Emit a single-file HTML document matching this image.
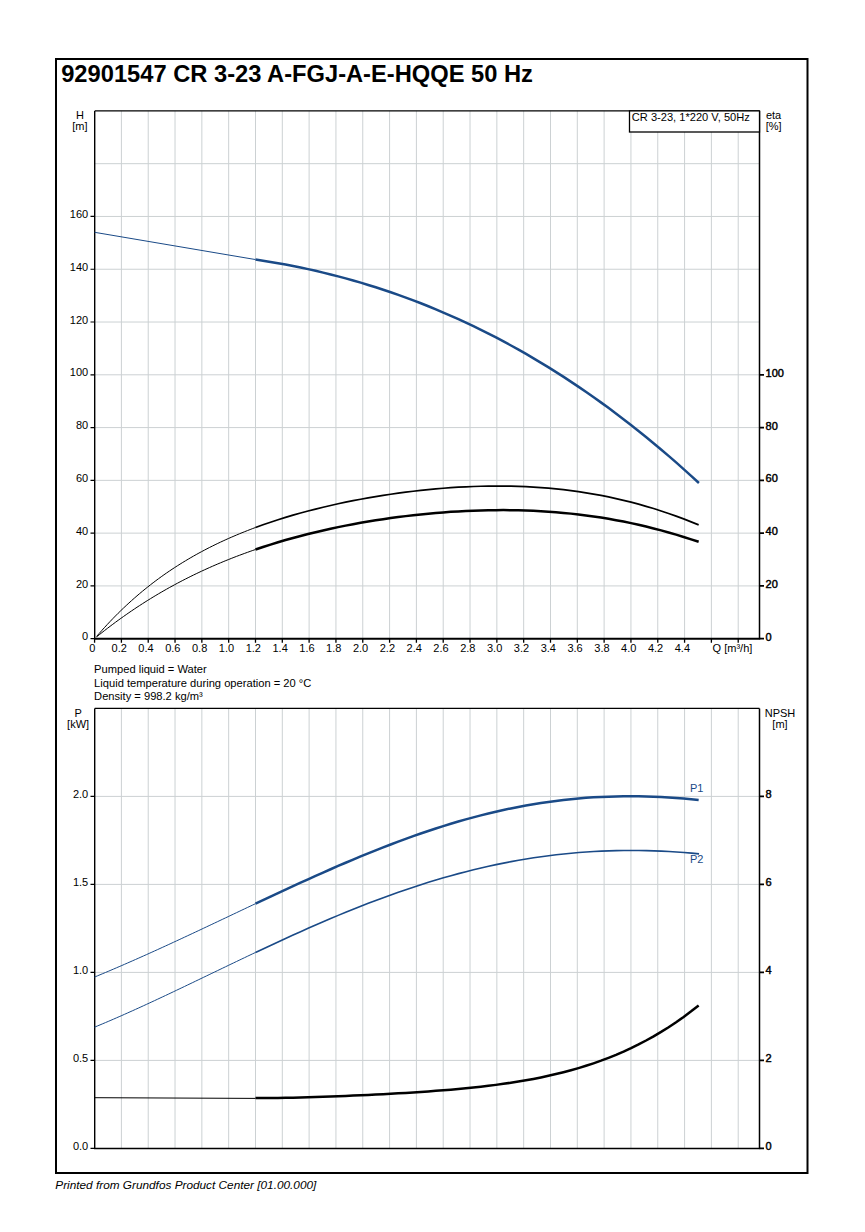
<!DOCTYPE html><html><head><meta charset="utf-8"><title>92901547 CR 3-23 A-FGJ-A-E-HQQE 50 Hz</title><style>html,body{margin:0;padding:0;background:#fff;width:865px;height:1232px;overflow:hidden}</style></head><body><svg width="865" height="1232" viewBox="0 0 865 1232" style="display:block">
<rect x="0" y="0" width="865" height="1232" fill="#fff"/>
<rect x="56" y="59" width="751.5" height="1114" fill="none" stroke="#000" stroke-width="2"/>
<text x="61.2" y="82" font-family="'Liberation Sans', Arial, sans-serif" font-size="23.7" font-weight="bold" fill="#000">92901547 CR 3-23 A-FGJ-A-E-HQQE 50 Hz</text>
<path d="M121.40,110.90V638.70 M148.22,110.90V638.70 M175.03,110.90V638.70 M201.85,110.90V638.70 M228.67,110.90V638.70 M255.49,110.90V638.70 M282.31,110.90V638.70 M309.12,110.90V638.70 M335.94,110.90V638.70 M362.76,110.90V638.70 M389.58,110.90V638.70 M416.40,110.90V638.70 M443.21,110.90V638.70 M470.03,110.90V638.70 M496.85,110.90V638.70 M523.67,110.90V638.70 M550.49,110.90V638.70 M577.30,110.90V638.70 M604.12,110.90V638.70 M630.94,110.90V638.70 M657.76,110.90V638.70 M684.58,110.90V638.70 M711.39,110.90V638.70 M738.21,110.90V638.70 M94.70,585.92H759.50 M94.70,533.14H759.50 M94.70,480.36H759.50 M94.70,427.58H759.50 M94.70,374.80H759.50 M94.70,322.02H759.50 M94.70,269.24H759.50 M94.70,216.46H759.50 M94.70,163.68H759.50" stroke="#ccd1d3" stroke-width="1" fill="none"/>
<path d="M94.7,110.9H759.5" stroke="#000" stroke-width="1.3"/>
<path d="M94.7,110.9V638.7" stroke="#000" stroke-width="1.4"/>
<path d="M759.5,110.9V638.7" stroke="#000" stroke-width="1.5"/>
<path d="M94.0,638.7H760.2" stroke="#000" stroke-width="2"/>
<path d="M90.5,638.70H94.7 M90.5,585.92H94.7 M90.5,533.14H94.7 M90.5,480.36H94.7 M90.5,427.58H94.7 M90.5,374.80H94.7 M90.5,322.02H94.7 M90.5,269.24H94.7 M90.5,216.46H94.7" stroke="#000" stroke-width="1.2"/>
<g font-family="'Liberation Sans', Arial, sans-serif" font-size="11" fill="#000"><text x="88.2" y="640.30" text-anchor="end">0</text><text x="88.2" y="587.52" text-anchor="end">20</text><text x="88.2" y="534.74" text-anchor="end">40</text><text x="88.2" y="481.96" text-anchor="end">60</text><text x="88.2" y="429.18" text-anchor="end">80</text><text x="88.2" y="376.40" text-anchor="end">100</text><text x="88.2" y="323.62" text-anchor="end">120</text><text x="88.2" y="270.84" text-anchor="end">140</text><text x="88.2" y="218.06" text-anchor="end">160</text></g>
<path d="M759.5,638.70H764 M759.5,585.92H764 M759.5,533.14H764 M759.5,480.36H764 M759.5,427.58H764 M759.5,374.80H764" stroke="#000" stroke-width="1.8"/>
<g font-family="'Liberation Sans', Arial, sans-serif" font-size="11" fill="#000" stroke="#000" stroke-width="0.45"><text x="765.6" y="640.70">0</text><text x="765.6" y="587.92">20</text><text x="765.6" y="535.14">40</text><text x="765.6" y="482.36">60</text><text x="765.6" y="429.58">80</text><text x="765.6" y="376.80">100</text></g>
<path d="M94.58,638.7V642.8 M121.40,638.7V642.8 M148.22,638.7V642.8 M175.03,638.7V642.8 M201.85,638.7V642.8 M228.67,638.7V642.8 M255.49,638.7V642.8 M282.31,638.7V642.8 M309.12,638.7V642.8 M335.94,638.7V642.8 M362.76,638.7V642.8 M389.58,638.7V642.8 M416.40,638.7V642.8 M443.21,638.7V642.8 M470.03,638.7V642.8 M496.85,638.7V642.8 M523.67,638.7V642.8 M550.49,638.7V642.8 M577.30,638.7V642.8 M604.12,638.7V642.8 M630.94,638.7V642.8 M657.76,638.7V642.8 M684.58,638.7V642.8 M711.39,638.7V642.8 M738.21,638.7V642.8" stroke="#000" stroke-width="1.3"/>
<g font-family="'Liberation Sans', Arial, sans-serif" font-size="11" fill="#000"><text x="92.38" y="652" text-anchor="middle">0</text><text x="119.20" y="652" text-anchor="middle">0.2</text><text x="146.02" y="652" text-anchor="middle">0.4</text><text x="172.83" y="652" text-anchor="middle">0.6</text><text x="199.65" y="652" text-anchor="middle">0.8</text><text x="226.47" y="652" text-anchor="middle">1.0</text><text x="253.29" y="652" text-anchor="middle">1.2</text><text x="280.11" y="652" text-anchor="middle">1.4</text><text x="306.92" y="652" text-anchor="middle">1.6</text><text x="333.74" y="652" text-anchor="middle">1.8</text><text x="360.56" y="652" text-anchor="middle">2.0</text><text x="387.38" y="652" text-anchor="middle">2.2</text><text x="414.20" y="652" text-anchor="middle">2.4</text><text x="441.01" y="652" text-anchor="middle">2.6</text><text x="467.83" y="652" text-anchor="middle">2.8</text><text x="494.65" y="652" text-anchor="middle">3.0</text><text x="521.47" y="652" text-anchor="middle">3.2</text><text x="548.29" y="652" text-anchor="middle">3.4</text><text x="575.10" y="652" text-anchor="middle">3.6</text><text x="601.92" y="652" text-anchor="middle">3.8</text><text x="628.74" y="652" text-anchor="middle">4.0</text><text x="655.56" y="652" text-anchor="middle">4.2</text><text x="682.38" y="652" text-anchor="middle">4.4</text><text x="712.6" y="652">Q [m³/h]</text></g>
<g font-family="'Liberation Sans', Arial, sans-serif" font-size="11" fill="#000" text-anchor="middle"><text x="79.9" y="118.6">H</text><text x="79.9" y="129.6">[m]</text><text x="773.6" y="118.7">eta</text><text x="773.6" y="129.7">[%]</text></g>
<rect x="629.5" y="110.9" width="130.00" height="21.10" fill="#fff" stroke="#000" stroke-width="1.3"/>
<text x="631.8" y="121.4" font-family="'Liberation Sans', Arial, sans-serif" font-size="11.1" fill="#000">CR 3-23, 1*220 V, 50Hz</text>
<path d="M94.58,232.3 L255.49,259.56" stroke="#1a4a87" stroke-width="1" fill="none"/>
<path d="M255.49,259.56 L263.00,260.70 L270.52,261.91 L278.04,263.21 L285.55,264.57 L293.07,266.02 L300.58,267.54 L308.10,269.15 L315.61,270.83 L323.13,272.60 L330.65,274.44 L338.16,276.37 L345.68,278.38 L353.19,280.48 L360.71,282.66 L368.23,284.93 L375.74,287.28 L383.26,289.72 L390.77,292.25 L398.29,294.88 L405.81,297.59 L413.32,300.39 L420.84,303.28 L428.35,306.27 L435.87,309.35 L443.38,312.53 L450.90,315.80 L458.42,319.17 L465.93,322.63 L473.45,326.19 L480.96,329.86 L488.48,333.62 L496.00,337.48 L503.51,341.45 L511.03,345.51 L518.54,349.68 L526.06,353.96 L533.57,358.34 L541.09,362.82 L548.61,367.42 L556.12,372.12 L563.64,376.92 L571.15,381.84 L578.67,386.87 L586.19,392.01 L593.70,397.26 L601.22,402.63 L608.73,408.11 L616.25,413.70 L623.77,419.41 L631.28,425.23 L638.80,431.17 L646.31,437.23 L653.83,443.41 L661.34,449.71 L668.86,456.13 L676.38,462.67 L683.89,469.34 L691.41,476.12 L698.92,483.03" stroke="#1a4a87" stroke-width="2.5" fill="none"/>
<path d="M96.59,636.47 L99.28,633.36 L101.98,630.31 L104.67,627.33 L107.36,624.40 L110.06,621.54 L112.75,618.73 L115.44,615.97 L118.14,613.28 L120.83,610.63 L123.52,608.04 L126.22,605.50 L128.91,603.02 L131.60,600.58 L134.30,598.19 L136.99,595.85 L139.68,593.55 L142.38,591.30 L145.07,589.10 L147.76,586.94 L150.45,584.82 L153.15,582.74 L155.84,580.71 L158.53,578.71 L161.23,576.76 L163.92,574.84 L166.61,572.96 L169.31,571.12 L172.00,569.31 L174.69,567.54 L177.39,565.81 L180.08,564.10 L182.77,562.43 L185.47,560.80 L188.16,559.19 L190.85,557.62 L193.55,556.07 L196.24,554.56 L198.93,553.07 L201.62,551.61 L204.32,550.18 L207.01,548.78 L209.70,547.40 L212.40,546.05 L215.09,544.73 L217.78,543.43 L220.48,542.15 L223.17,540.90 L225.86,539.67 L228.56,538.46 L231.25,537.27 L233.94,536.11 L236.64,534.97 L239.33,533.84 L242.02,532.74 L244.72,531.66 L247.41,530.60 L250.10,529.56 L252.79,528.53 L255.49,527.52" stroke="#000" stroke-width="1" fill="none"/>
<path d="M255.49,527.52 L263.00,524.81 L270.51,522.22 L278.02,519.76 L285.53,517.41 L293.04,515.18 L300.56,513.05 L308.07,511.01 L315.58,509.08 L323.09,507.23 L330.60,505.47 L338.11,503.79 L345.62,502.20 L353.14,500.68 L360.65,499.24 L368.16,497.88 L375.67,496.59 L383.18,495.37 L390.69,494.23 L398.20,493.16 L405.71,492.16 L413.23,491.23 L420.74,490.37 L428.25,489.59 L435.76,488.88 L443.27,488.25 L450.78,487.69 L458.29,487.21 L465.80,486.81 L473.32,486.49 L480.83,486.26 L488.34,486.10 L495.85,486.04 L503.36,486.06 L510.87,486.18 L518.38,486.38 L525.90,486.68 L533.41,487.08 L540.92,487.58 L548.43,488.19 L555.94,488.89 L563.45,489.70 L570.96,490.63 L578.47,491.66 L585.99,492.81 L593.50,494.07 L601.01,495.45 L608.52,496.95 L616.03,498.57 L623.54,500.31 L631.05,502.18 L638.56,504.18 L646.08,506.31 L653.59,508.56 L661.10,510.95 L668.61,513.47 L676.12,516.13 L683.63,518.92 L691.14,521.84 L698.66,524.91" stroke="#000" stroke-width="1.7" fill="none"/>
<path d="M96.59,636.89 L99.28,634.72 L101.98,632.58 L104.67,630.47 L107.36,628.39 L110.06,626.34 L112.75,624.31 L115.44,622.31 L118.14,620.34 L120.83,618.39 L123.52,616.47 L126.22,614.58 L128.91,612.71 L131.60,610.87 L134.30,609.06 L136.99,607.26 L139.68,605.50 L142.38,603.76 L145.07,602.04 L147.76,600.35 L150.45,598.68 L153.15,597.03 L155.84,595.41 L158.53,593.81 L161.23,592.24 L163.92,590.68 L166.61,589.15 L169.31,587.64 L172.00,586.16 L174.69,584.69 L177.39,583.25 L180.08,581.82 L182.77,580.42 L185.47,579.04 L188.16,577.68 L190.85,576.33 L193.55,575.01 L196.24,573.71 L198.93,572.43 L201.62,571.16 L204.32,569.92 L207.01,568.69 L209.70,567.48 L212.40,566.29 L215.09,565.12 L217.78,563.96 L220.48,562.83 L223.17,561.71 L225.86,560.60 L228.56,559.52 L231.25,558.45 L233.94,557.39 L236.64,556.35 L239.33,555.33 L242.02,554.33 L244.72,553.34 L247.41,552.36 L250.10,551.40 L252.79,550.45 L255.49,549.52" stroke="#000" stroke-width="1" fill="none"/>
<path d="M255.49,549.52 L263.00,547.00 L270.51,544.59 L278.02,542.28 L285.53,540.07 L293.04,537.96 L300.56,535.94 L308.07,534.01 L315.58,532.17 L323.09,530.42 L330.60,528.75 L338.11,527.15 L345.62,525.64 L353.14,524.20 L360.65,522.83 L368.16,521.54 L375.67,520.31 L383.18,519.16 L390.69,518.08 L398.20,517.06 L405.71,516.12 L413.23,515.24 L420.74,514.43 L428.25,513.68 L435.76,513.01 L443.27,512.40 L450.78,511.86 L458.29,511.39 L465.80,511.00 L473.32,510.67 L480.83,510.42 L488.34,510.24 L495.85,510.13 L503.36,510.11 L510.87,510.16 L518.38,510.29 L525.90,510.51 L533.41,510.81 L540.92,511.19 L548.43,511.67 L555.94,512.23 L563.45,512.88 L570.96,513.63 L578.47,514.47 L585.99,515.41 L593.50,516.44 L601.01,517.58 L608.52,518.82 L616.03,520.16 L623.54,521.60 L631.05,523.15 L638.56,524.80 L646.08,526.56 L653.59,528.42 L661.10,530.39 L668.61,532.47 L676.12,534.65 L683.63,536.93 L691.14,539.32 L698.66,541.81" stroke="#000" stroke-width="2.5" fill="none"/>
<g font-family="'Liberation Sans', Arial, sans-serif" font-size="11.15" fill="#000"><text x="94.1" y="672.8">Pumped liquid = Water</text><text x="94.1" y="687.0">Liquid temperature during operation = 20 °C</text><text x="94.1" y="700.2">Density = 998.2 kg/m³</text></g>
<path d="M121.40,708.40V1148.40 M148.22,708.40V1148.40 M175.03,708.40V1148.40 M201.85,708.40V1148.40 M228.67,708.40V1148.40 M255.49,708.40V1148.40 M282.31,708.40V1148.40 M309.12,708.40V1148.40 M335.94,708.40V1148.40 M362.76,708.40V1148.40 M389.58,708.40V1148.40 M416.40,708.40V1148.40 M443.21,708.40V1148.40 M470.03,708.40V1148.40 M496.85,708.40V1148.40 M523.67,708.40V1148.40 M550.49,708.40V1148.40 M577.30,708.40V1148.40 M604.12,708.40V1148.40 M630.94,708.40V1148.40 M657.76,708.40V1148.40 M684.58,708.40V1148.40 M711.39,708.40V1148.40 M738.21,708.40V1148.40 M94.70,1060.40H759.50 M94.70,972.40H759.50 M94.70,884.40H759.50 M94.70,796.40H759.50" stroke="#ccd1d3" stroke-width="1" fill="none"/>
<path d="M94.7,708.4H759.5" stroke="#000" stroke-width="1.3"/>
<path d="M94.7,708.4V1148.4" stroke="#000" stroke-width="1.4"/>
<path d="M759.5,708.4V1148.4" stroke="#000" stroke-width="1.5"/>
<path d="M94.0,1148.4H760.2" stroke="#000" stroke-width="1.5"/>
<path d="M90.5,1148.40H94.7 M90.5,1060.40H94.7 M90.5,972.40H94.7 M90.5,884.40H94.7 M90.5,796.40H94.7" stroke="#000" stroke-width="1.2"/>
<g font-family="'Liberation Sans', Arial, sans-serif" font-size="11" fill="#000"><text x="88.2" y="1150.00" text-anchor="end">0.0</text><text x="88.2" y="1062.00" text-anchor="end">0.5</text><text x="88.2" y="974.00" text-anchor="end">1.0</text><text x="88.2" y="886.00" text-anchor="end">1.5</text><text x="88.2" y="798.00" text-anchor="end">2.0</text></g>
<path d="M759.5,1148.40H764 M759.5,1060.40H764 M759.5,972.40H764 M759.5,884.40H764 M759.5,796.40H764" stroke="#000" stroke-width="1.8"/>
<g font-family="'Liberation Sans', Arial, sans-serif" font-size="11" fill="#000" stroke="#000" stroke-width="0.45"><text x="765.6" y="1150.20">0</text><text x="765.6" y="1062.20">2</text><text x="765.6" y="974.20">4</text><text x="765.6" y="886.20">6</text><text x="765.6" y="798.20">8</text></g>
<g font-family="'Liberation Sans', Arial, sans-serif" font-size="11" fill="#000" text-anchor="middle"><text x="78.1" y="716.7">P</text><text x="78.1" y="727.7">[kW]</text><text x="780" y="716.8">NPSH</text><text x="780" y="727.8">[m]</text></g>
<path d="M94.58,977.05 L97.31,975.92 L100.03,974.78 L102.76,973.64 L105.49,972.49 L108.22,971.34 L110.94,970.18 L113.67,969.01 L116.40,967.84 L119.13,966.67 L121.85,965.49 L124.58,964.30 L127.31,963.11 L130.03,961.91 L132.76,960.71 L135.49,959.51 L138.22,958.30 L140.94,957.09 L143.67,955.87 L146.40,954.65 L149.13,953.42 L151.85,952.19 L154.58,950.95 L157.31,949.72 L160.03,948.47 L162.76,947.23 L165.49,945.98 L168.22,944.73 L170.94,943.47 L173.67,942.21 L176.40,940.95 L179.12,939.69 L181.85,938.42 L184.58,937.15 L187.31,935.88 L190.03,934.61 L192.76,933.33 L195.49,932.05 L198.22,930.77 L200.94,929.49 L203.67,928.21 L206.40,926.92 L209.12,925.64 L211.85,924.35 L214.58,923.06 L217.31,921.77 L220.03,920.48 L222.76,919.19 L225.49,917.90 L228.22,916.61 L230.94,915.31 L233.67,914.02 L236.40,912.73 L239.12,911.44 L241.85,910.14 L244.58,908.85 L247.31,907.56 L250.03,906.27 L252.76,904.98 L255.49,903.70" stroke="#1a4a87" stroke-width="1" fill="none"/>
<path d="M255.49,903.70 L263.00,900.16 L270.51,896.63 L278.02,893.12 L285.53,889.62 L293.04,886.15 L300.56,882.71 L308.07,879.29 L315.58,875.90 L323.09,872.55 L330.60,869.24 L338.11,865.97 L345.62,862.74 L353.14,859.56 L360.65,856.43 L368.16,853.35 L375.67,850.32 L383.18,847.36 L390.69,844.46 L398.20,841.62 L405.71,838.85 L413.23,836.15 L420.74,833.52 L428.25,830.97 L435.76,828.49 L443.27,826.09 L450.78,823.77 L458.29,821.54 L465.80,819.40 L473.32,817.34 L480.83,815.37 L488.34,813.49 L495.85,811.70 L503.36,810.01 L510.87,808.41 L518.38,806.91 L525.90,805.51 L533.41,804.21 L540.92,803.00 L548.43,801.90 L555.94,800.89 L563.45,799.98 L570.96,799.18 L578.47,798.47 L585.99,797.87 L593.50,797.36 L601.01,796.95 L608.52,796.64 L616.03,796.43 L623.54,796.31 L631.05,796.28 L638.56,796.35 L646.08,796.51 L653.59,796.75 L661.10,797.08 L668.61,797.49 L676.12,797.99 L683.63,798.56 L691.14,799.20 L698.66,799.92" stroke="#1a4a87" stroke-width="2.5" fill="none"/>
<path d="M94.58,1027.15 L97.31,1026.03 L100.03,1024.89 L102.76,1023.74 L105.49,1022.59 L108.22,1021.43 L110.94,1020.26 L113.67,1019.08 L116.40,1017.89 L119.13,1016.70 L121.85,1015.50 L124.58,1014.29 L127.31,1013.08 L130.03,1011.85 L132.76,1010.63 L135.49,1009.40 L138.22,1008.16 L140.94,1006.91 L143.67,1005.66 L146.40,1004.41 L149.13,1003.15 L151.85,1001.89 L154.58,1000.62 L157.31,999.35 L160.03,998.07 L162.76,996.79 L165.49,995.51 L168.22,994.22 L170.94,992.93 L173.67,991.64 L176.40,990.34 L179.12,989.04 L181.85,987.74 L184.58,986.44 L187.31,985.14 L190.03,983.83 L192.76,982.52 L195.49,981.21 L198.22,979.90 L200.94,978.59 L203.67,977.28 L206.40,975.97 L209.12,974.66 L211.85,973.34 L214.58,972.03 L217.31,970.72 L220.03,969.41 L222.76,968.10 L225.49,966.79 L228.22,965.48 L230.94,964.17 L233.67,962.86 L236.40,961.55 L239.12,960.25 L241.85,958.95 L244.58,957.65 L247.31,956.35 L250.03,955.05 L252.76,953.76 L255.49,952.47" stroke="#1a4a87" stroke-width="1" fill="none"/>
<path d="M255.49,952.47 L263.01,948.93 L270.52,945.41 L278.04,941.92 L285.56,938.46 L293.08,935.04 L300.60,931.65 L308.11,928.31 L315.63,925.00 L323.15,921.75 L330.67,918.54 L338.19,915.38 L345.71,912.28 L353.22,909.23 L360.74,906.24 L368.26,903.32 L375.78,900.45 L383.30,897.65 L390.81,894.92 L398.33,892.26 L405.85,889.66 L413.37,887.15 L420.89,884.70 L428.41,882.33 L435.92,880.04 L443.44,877.83 L450.96,875.69 L458.48,873.64 L466.00,871.67 L473.51,869.79 L481.03,867.98 L488.55,866.27 L496.07,864.64 L503.59,863.10 L511.10,861.64 L518.62,860.28 L526.14,859.00 L533.66,857.81 L541.18,856.71 L548.70,855.70 L556.21,854.78 L563.73,853.95 L571.25,853.21 L578.77,852.55 L586.29,851.99 L593.80,851.52 L601.32,851.13 L608.84,850.84 L616.36,850.63 L623.88,850.50 L631.39,850.47 L638.91,850.52 L646.43,850.65 L653.95,850.87 L661.47,851.16 L668.99,851.54 L676.50,852.00 L684.02,852.54 L691.54,853.16 L699.06,853.85" stroke="#1a4a87" stroke-width="1.6" fill="none"/>
<path d="M94.58,1097.7 L255.49,1098.4" stroke="#000" stroke-width="1" fill="none"/>
<path d="M255.49,1098.10 L263.00,1098.09 L270.51,1098.04 L278.02,1097.96 L285.53,1097.83 L293.04,1097.67 L300.56,1097.49 L308.07,1097.28 L315.58,1097.04 L323.09,1096.79 L330.60,1096.51 L338.11,1096.22 L345.62,1095.91 L353.14,1095.59 L360.65,1095.25 L368.16,1094.90 L375.67,1094.53 L383.18,1094.14 L390.69,1093.74 L398.20,1093.32 L405.71,1092.88 L413.23,1092.41 L420.74,1091.92 L428.25,1091.40 L435.76,1090.85 L443.27,1090.27 L450.78,1089.65 L458.29,1088.98 L465.80,1088.27 L473.32,1087.51 L480.83,1086.69 L488.34,1085.81 L495.85,1084.87 L503.36,1083.85 L510.87,1082.75 L518.38,1081.56 L525.90,1080.28 L533.41,1078.90 L540.92,1077.41 L548.43,1075.81 L555.94,1074.09 L563.45,1072.23 L570.96,1070.24 L578.47,1068.09 L585.99,1065.79 L593.50,1063.32 L601.01,1060.68 L608.52,1057.84 L616.03,1054.81 L623.54,1051.58 L631.05,1048.13 L638.56,1044.45 L646.08,1040.52 L653.59,1036.35 L661.10,1031.92 L668.61,1027.21 L676.12,1022.22 L683.63,1016.93 L691.14,1011.33 L698.66,1005.41" stroke="#000" stroke-width="2.5" fill="none"/>
<g font-family="'Liberation Sans', Arial, sans-serif" font-size="11" fill="#1a4a87"><text x="690" y="792">P1</text><text x="690" y="863.2">P2</text></g>
<text x="55.3" y="1188.7" font-family="'Liberation Sans', Arial, sans-serif" font-size="11.8" font-style="italic" fill="#000">Printed from Grundfos Product Center [01.00.000]</text>
</svg></body></html>
